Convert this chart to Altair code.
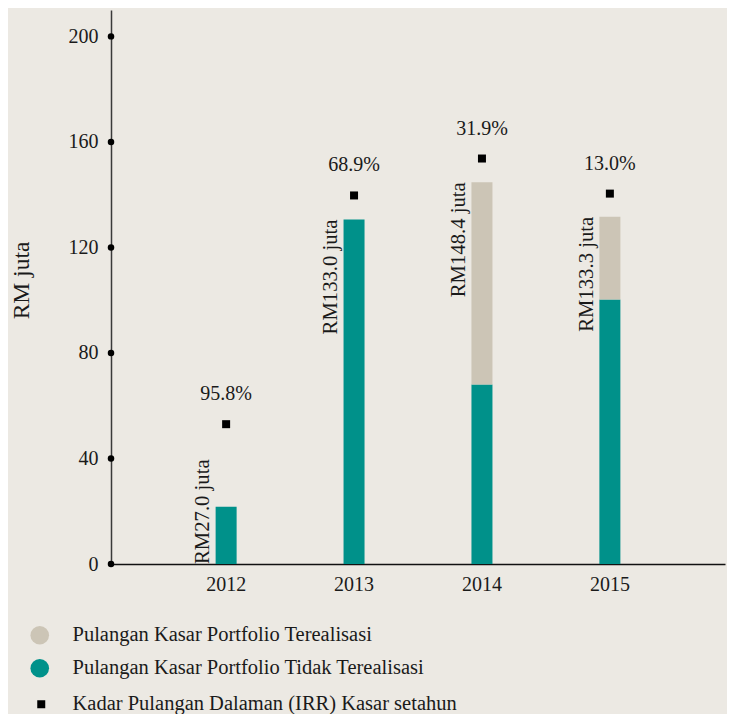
import altair as alt
import pandas as pd

years = ["2012", "2013", "2014", "2015"]
unrealised = [21.7, 130.6, 68.0, 100.3]      # Tidak Terealisasi (teal)
realised = [0.0, 0.0, 76.7, 31.3]            # Terealisasi (beige)
irr = [53.0, 139.7, 153.7, 140.4]
irr_labels = ["95.8%", "68.9%", "31.9%", "13.0%"]
total_labels = ["RM27.0 juta", "RM133.0 juta", "RM148.4 juta", "RM133.3 juta"]
y_ticks = [0, 40, 80, 120, 160, 200]
series_names = ["Pulangan Kasar Portfolio Terealisasi",
                "Pulangan Kasar Portfolio Tidak Terealisasi"]
irr_name = "Kadar Pulangan Dalaman (IRR) Kasar setahun"
colors = ["#CCC5B6", "#00918A"]

FONT = "Liberation Serif"
TXT = "#1a1a1a"

rows = []
for i, y in enumerate(years):
    rows.append({"year": y, "series": series_names[1], "value": unrealised[i], "ord": 0})
    rows.append({"year": y, "series": series_names[0], "value": realised[i], "ord": 1})
bars_df = pd.DataFrame(rows)

info_df = pd.DataFrame({
    "year": years,
    "total": [u + r for u, r in zip(unrealised, realised)],
    "irr": irr,
    "irr_label": irr_labels,
    "total_label": total_labels,
    "name": [irr_name] * len(years),
})
info_df["base"] = info_df["total"] < 40

ticks_df = pd.DataFrame({"t": y_ticks})

x_enc = alt.X("year:N",
              scale=alt.Scale(paddingInner=0, paddingOuter=0.4),
              axis=alt.Axis(title=None, ticks=False, grid=False, domainColor="#111111",
                            domainWidth=1.6, labelFontSize=20, labelPadding=10,
                            labelAngle=0, labelColor=TXT, labelFont=FONT))
y_scale = alt.Scale(domain=[0, 210], nice=False)

bars = alt.Chart(bars_df).mark_bar(size=21).encode(
    x=x_enc,
    y=alt.Y("value:Q", stack="zero", scale=y_scale,
            axis=alt.Axis(values=y_ticks, ticks=False, grid=False, domainColor="#3a3a3a",
                          domainWidth=1.5, labelFontSize=20, labelPadding=13,
                          labelColor=TXT, labelFlush=False, labelOverlap=False,
                          labelFont=FONT,
                          title="RM juta", titleFontSize=23.5, titleFontWeight="normal",
                          titleFont=FONT,
                          titleAngle=270, titleX=-83, titleY=270,
                          titleBaseline="alphabetic", titleAlign="center",
                          titleColor=TXT)),
    color=alt.Color("series:N",
                    scale=alt.Scale(domain=series_names, range=colors),
                    legend=alt.Legend(title=None, orient="none", legendX=-81.5, legendY=615,
                                      symbolType="circle", symbolSize=346,
                                      symbolStrokeWidth=0, labelFontSize=20.5,
                                      labelOffset=22.5, rowPadding=12, padding=0,
                                      labelColor=TXT, labelLimit=600, labelFont=FONT)),
    order=alt.Order("ord:Q"),
)

dots = alt.Chart(ticks_df).mark_circle(size=42, color="#000000", opacity=1).encode(
    x=alt.value(0),
    y=alt.Y("t:Q", scale=y_scale),
)

squares = alt.Chart(info_df).mark_point(filled=True, size=64, color="#000000", opacity=1).encode(
    x=alt.X("year:N"),
    y=alt.Y("irr:Q", scale=y_scale),
    shape=alt.Shape("name:N", scale=alt.Scale(domain=[irr_name], range=["square"]),
                    legend=alt.Legend(title=None, orient="none", legendX=-80, legendY=684,
                                      symbolSize=64, symbolFillColor="#000000",
                                      symbolStrokeWidth=0, labelFontSize=20.5,
                                      labelOffset=21, padding=0, labelColor=TXT,
                                      labelLimit=600, labelFont=FONT)),
)

pct = alt.Chart(info_df).mark_text(fontSize=20, dy=-24, baseline="alphabetic",
                                   color=TXT, font=FONT).encode(
    x=alt.X("year:N"),
    y=alt.Y("irr:Q", scale=y_scale),
    text="irr_label:N",
)

tot_top = alt.Chart(info_df).transform_filter("!datum.base").mark_text(
    fontSize=20.7, angle=270, align="right", baseline="alphabetic", dy=-17, color=TXT,
    font=FONT
).encode(
    x=alt.X("year:N"),
    y=alt.Y("total:Q", scale=y_scale),
    text="total_label:N",
)

tot_base = alt.Chart(info_df).transform_filter("datum.base").mark_text(
    fontSize=20.7, angle=270, align="left", baseline="alphabetic", dy=-17, color=TXT,
    font=FONT
).encode(
    x=alt.X("year:N"),
    y=alt.datum(0),
    text="total_label:N",
)

chart = alt.layer(bars, squares, pct, tot_top, tot_base, dots).properties(
    width=614, height=554,
    background="#ECE9E3",
    padding={"left": 103, "top": 2, "right": 2, "bottom": 150},
    autosize=alt.AutoSizeParams(type="none"),
).configure_view(stroke=None).configure_axis(
    labelFont=FONT, titleFont=FONT
).configure_legend(labelFont=FONT).configure_text(font=FONT)

chart.save("out.html", embed_options={"renderer": "svg", "actions": False})
